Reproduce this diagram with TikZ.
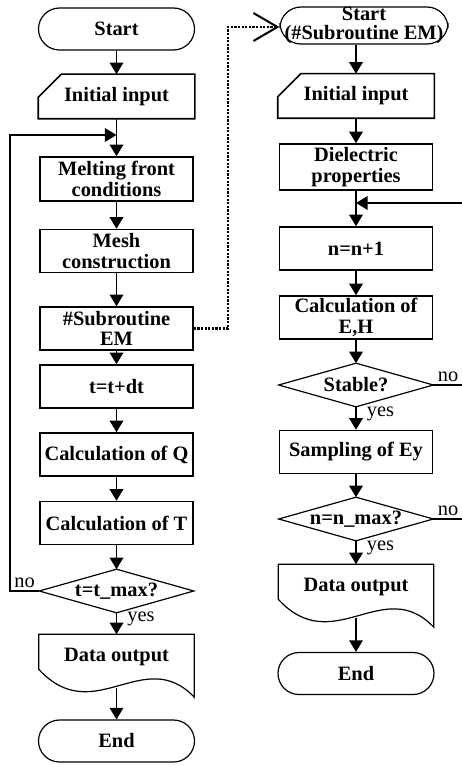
\documentclass[tikz,border=0pt]{standalone}
\usepackage{fontspec}
\setmainfont{Liberation Serif}
\usetikzlibrary{calc, arrows.meta}

\begin{document}
\begin{tikzpicture}[x=.5pt, y=-.5pt, >={Triangle[length=5.8pt, width=6.8pt]}, line width=.8pt,
    font=\fontsize{10.2}{10.4}\selectfont\bfseries,
    proc/.style={draw, align=center, inner sep=0pt, minimum width=76.5pt, minimum height=21.5pt},
    term/.style={draw, align=center, inner sep=0pt, rounded corners=10.5pt, minimum width=78pt, minimum height=21pt, line width=.6pt},
    io/.style={align=center, inner sep=0pt, minimum width=77.5pt, minimum height=21.5pt},
    decide/.style={align=center, inner sep=0pt, minimum width=76.5pt, minimum height=21pt},
    doc/.style={align=center, inner sep=0pt, minimum width=77pt, minimum height=22pt},
    lbl/.style={font=\fontsize{10.2}{10.4}\selectfont, inner sep=1.5pt},
    sublink/.style={line width=1.1pt, dash pattern=on 1.1pt off .7pt, -{Straight Barb[length=12pt, width=14pt, line width=1pt]}}]
  \useasboundingbox (0,0) rectangle (461,765);

  % main program
  \node [term] (start1) at (116.5,29) {Start};
  \node [io] (in1) at (116.5,96.5) {Initial input};
  \node [proc, minimum height=22pt] (melt) at (116.5,179) {Melting front\\conditions};
  \node [proc] (mesh) at (116.5,251) {Mesh\\construction};
  \node [proc] (sub) at (116.5,328.5) {\#Subroutine\\EM};
  \node [proc] (tdt) at (116.5,386.5) {t=t+dt};
  \node [proc] (calcQ) at (116.5,454.5) {Calculation of Q};
  \node [proc] (calcT) at (116.5,523) {Calculation of T};
  \node [decide] (tmax) at (116.5,591) {t=t\_max?};
  \node [doc] (out1) at (116.5,657) {Data output};
  \node [term] (end1) at (116.5,741) {End};
  \coordinate (join1) at (116.5,135);
  \coordinate (loop1) at (10,135);
  \coordinate (out1b) at (116.5,688);

  % subroutine EM
  \node [term, minimum width=84pt, minimum height=18.5pt, font=\fontsize{10.2}{9.4}\selectfont\bfseries] (start2) at (364,25.5) {Start\\(\#Subroutine EM)};
  \node [io] (in2) at (356,96) {Initial input};
  \node [proc, minimum height=23pt] (diel) at (356,167) {Dielectric\\properties};
  \node [proc] (nn1) at (356,248.5) {n=n+1};
  \node [proc] (calcEH) at (356,317.5) {Calculation of\\E,H};
  \node [decide] (stab) at (356,385) {Stable?};
  \node [proc] (sampEy) at (356,452) {Sampling of Ey};
  \node [decide] (nmax) at (356,519) {n=n\_max?};
  \node [doc] (out2) at (356,587) {Data output};
  \node [term] (end2) at (356,673.5) {End};
  \coordinate (join2) at (356,203);
  \coordinate (rail) at (463,203);
  \coordinate (out2b) at (356,618);
  \coordinate (dot1) at (228,27);

  \foreach \n in {in1,in2}
    \draw (\n.south west) -- (\n.south east) -- (\n.north east) -- ($(\n.north west)+(23,0)$) -- ($(\n.north west)+(0,23)$) -- cycle;
  \foreach \n in {tmax,stab,nmax}
    \draw [line width=.6pt] (\n.north) -- (\n.east) -- (\n.south) -- (\n.west) -- cycle;
  \foreach \n in {out1,out2}
    \draw [line width=.6pt] (\n.north west) -- (\n.north east) -- ($(\n.north east)+(0,63)$)
      .. controls ($(\n.north west)+(105,10)$) and ($(\n.north west)+(55,95)$) .. ($(\n.north west)+(0,35)$) -- cycle;

  \draw [->] (start1) -- (in1);
  \draw (in1) -- (join1);
  \draw [->] (join1) -- (melt);
  \draw [->] (melt) -- (mesh);
  \draw [->] (mesh) -- (sub);
  \draw [->] (sub) -- (tdt);
  \draw [->] (tdt) -- (calcQ);
  \draw [->] (calcQ) -- (calcT);
  \draw [->] (calcT) -- (tmax);
  \draw [->] (tmax) -- node[lbl, right, pos=.3, xshift=3.5pt] {yes} (out1);
  \draw [->] (out1b) -- (end1);
  \draw [->] (tmax.west) -- node[lbl, above] {no} (tmax.west -| loop1) -- (loop1) -- (join1);

  \draw [->] (start2.south -| in2) -- (in2);
  \draw [->] (in2) -- (diel);
  \draw (diel) -- (join2);
  \draw [->] (join2) -- (nn1);
  \draw [->] (nn1) -- (calcEH);
  \draw [->] (calcEH) -- (stab);
  \draw [->] (stab) -- node[lbl, right, pos=.3, xshift=3.5pt] {yes} (sampEy);
  \draw [->] (sampEy) -- (nmax);
  \draw [->] (nmax) -- node[lbl, right, pos=.3, xshift=3.5pt] {yes} (out2);
  \draw [->] (out2b) -- (end2);
  \draw [->] (stab.east) -- node[lbl, above] {no} (stab.east -| rail) -- (rail) -- (join2);
  \draw (nmax.east) -- node[lbl, above] {no} (nmax.east -| rail) -- (stab.east -| rail);

  \draw [sublink] (sub.east) -| (dot1) -- (dot1 -| start2.west);
\end{tikzpicture}
\end{document}
